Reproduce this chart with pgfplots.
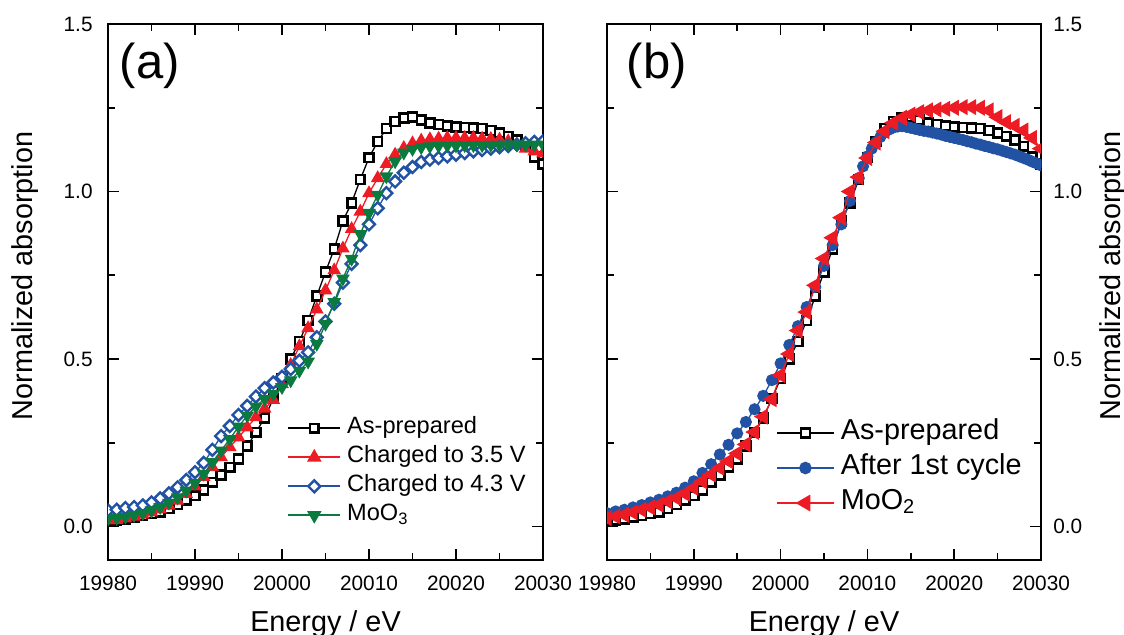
\documentclass[border=0pt]{standalone}
\usepackage{pgfplots}
\usepackage{pgfplotstable}
\pgfplotsset{compat=1.18}
\usepackage{fontspec}
\setmainfont{Liberation Sans}

\definecolor{xred}{HTML}{ED1C24}
\definecolor{xblue}{HTML}{2152A3}
\definecolor{xgreen}{HTML}{0B7A3E}

% panel (a) and the As-prepared curve of panel (b)
\pgfplotstableread{
E ap v35 v43 moo
19980 0.018 0.018 0.048 0.023
19981 0.020 0.020 0.050 0.025
19982 0.023 0.024 0.055 0.029
19983 0.028 0.029 0.058 0.034
19984 0.033 0.035 0.063 0.040
19985 0.038 0.042 0.072 0.048
19986 0.043 0.051 0.084 0.058
19987 0.053 0.062 0.099 0.071
19988 0.066 0.077 0.117 0.087
19989 0.078 0.097 0.139 0.107
19990 0.092 0.120 0.162 0.130
19991 0.109 0.148 0.190 0.157
19992 0.132 0.177 0.229 0.192
19993 0.154 0.207 0.270 0.227
19994 0.177 0.237 0.300 0.261
19995 0.202 0.266 0.333 0.298
19996 0.240 0.296 0.360 0.331
19997 0.281 0.326 0.388 0.358
19998 0.324 0.352 0.413 0.381
19999 0.382 0.378 0.430 0.396
20000 0.442 0.425 0.447 0.416
20001 0.500 0.482 0.470 0.436
20002 0.552 0.538 0.495 0.465
20003 0.615 0.592 0.520 0.492
20004 0.688 0.648 0.565 0.545
20005 0.760 0.705 0.612 0.605
20006 0.828 0.765 0.665 0.670
20007 0.912 0.830 0.728 0.740
20008 0.966 0.888 0.784 0.799
20009 1.036 0.940 0.840 0.873
20010 1.101 0.995 0.902 0.936
20011 1.149 1.040 0.950 0.990
20012 1.188 1.082 0.995 1.045
20013 1.209 1.110 1.030 1.090
20014 1.220 1.130 1.056 1.116
20015 1.222 1.144 1.073 1.127
20016 1.213 1.152 1.088 1.132
20017 1.204 1.156 1.095 1.135
20018 1.200 1.158 1.100 1.136
20019 1.196 1.160 1.105 1.137
20020 1.193 1.160 1.110 1.137
20021 1.191 1.160 1.115 1.138
20022 1.190 1.160 1.120 1.138
20023 1.188 1.158 1.124 1.138
20024 1.182 1.157 1.128 1.139
20025 1.175 1.155 1.132 1.139
20026 1.165 1.150 1.136 1.140
20027 1.154 1.140 1.140 1.140
20028 1.135 1.128 1.144 1.140
20029 1.103 1.120 1.148 1.140
20030 1.082 1.114 1.150 1.140
}\dataA

% panel (b): after 1st cycle
\pgfplotstableread{
E A
19980 0.040
19981 0.045
19982 0.050
19983 0.057
19984 0.064
19985 0.072
19986 0.080
19987 0.090
19988 0.101
19989 0.116
19990 0.135
19991 0.160
19992 0.186
19993 0.215
19994 0.244
19995 0.278
19996 0.312
19997 0.350
19998 0.390
19999 0.437
20000 0.487
20001 0.542
20002 0.598
20003 0.655
20004 0.715
20005 0.778
20006 0.840
20007 0.902
20008 0.972
20009 1.040
20009.5 1.075
20010 1.105
20010.5 1.128
20011 1.147
20011.5 1.163
20012 1.176
20012.5 1.185
20013 1.191
20013.5 1.194
20014 1.195
20014.5 1.193
20015 1.190
20015.5 1.187
20016 1.184
20016.5 1.181
20017 1.179
20017.5 1.176
20018 1.173
20018.5 1.170
20019 1.166
20019.5 1.163
20020 1.160
20020.5 1.157
20021 1.154
20021.5 1.150
20022 1.147
20022.5 1.143
20023 1.140
20023.5 1.136
20024 1.133
20024.5 1.129
20025 1.126
20025.5 1.122
20026 1.118
20026.5 1.114
20027 1.110
20027.5 1.105
20028 1.100
20028.5 1.095
20029 1.089
20029.5 1.084
20030 1.078
}\dataCyc

% panel (b): MoO2
\pgfplotstableread{
E A
19980 0.025
19981 0.030
19982 0.035
19983 0.042
19984 0.050
19985 0.057
19986 0.065
19987 0.075
19988 0.085
19989 0.098
19990 0.115
19991 0.135
19992 0.155
19993 0.175
19994 0.195
19995 0.218
19996 0.245
19997 0.282
19998 0.328
19999 0.380
20000 0.452
20001 0.515
20002 0.585
20003 0.640
20004 0.720
20005 0.800
20006 0.862
20007 0.922
20008 1.000
20009 1.043
20010 1.100
20011 1.146
20012 1.180
20013 1.205
20014 1.220
20015 1.230
20016 1.237
20017 1.242
20018 1.245
20019 1.247
20020 1.250
20021 1.252
20022 1.252
20023 1.250
20024 1.242
20025 1.222
20026 1.207
20027 1.196
20028 1.182
20029 1.160
20030 1.128
}\dataMoO

\pgfplotsset{
  panel/.style={
    width=217.5pt, height=268pt, scale only axis,
    xmin=19980, xmax=20030, ymin=-0.1, ymax=1.5,
    xtick={19980,19990,20000,20010,20020,20030},
    xticklabels={19980,19990,20000,20010,20020,20030},
    ytick={0,0.5,1,1.5}, yticklabels={0.0,0.5,1.0,1.5},
    minor x tick num=1, minor y tick num=1,
    tick align=inside,
    major tick length=5.5pt, minor tick length=3.5pt,
    every tick/.style={black, line width=0.8pt},
    axis line style={line width=1pt},
    scaled x ticks=false, scaled y ticks=false,
    tick label style={font=\fontsize{10.4}{12}\selectfont, inner sep=0pt},
    xticklabel style={anchor=north, yshift=-8pt},
    label style={font=\fontsize{14.4}{17}\selectfont},
    xlabel={Energy / eV},
    xlabel style={at={(axis description cs:0.5,0)}, anchor=base, yshift=-35.5pt},
    ylabel={Normalized absorption},
    clip marker paths=true,
    legend cell align=left,
    every axis plot/.append style={line width=0.65pt},
  },
  legA/.style={
    legend style={at={(0.4115,0.2735)}, anchor=north west, draw=none, fill=none,
      inner sep=0pt, row sep=0pt, column sep=2pt,
      font=\fontsize{11.8}{14}\selectfont,
      nodes={inner sep=1pt, text height=9pt, text depth=3.5pt}},
    legend image code/.code={\draw[mark repeat=2, mark phase=2, line width=0.9pt]
      plot coordinates {(0pt,0pt) (13pt,0pt) (26pt,0pt)};},
  },
  legB/.style={
    legend style={at={(0.3885,0.2703)}, anchor=north west, draw=none, fill=none,
      inner sep=0pt, row sep=0pt, column sep=2pt,
      font=\fontsize{14.4}{17}\selectfont,
      nodes={inner sep=1pt, text height=11pt, text depth=4.5pt}},
    legend image code/.code={\draw[mark repeat=2, mark phase=2, line width=0.9pt]
      plot coordinates {(0pt,0pt) (14.25pt,0pt) (28.5pt,0pt)};},
  },
}

\begin{document}
\begin{tikzpicture}
\useasboundingbox (-54pt,-37pt) rectangle (508pt,280pt);

% (a)
\begin{axis}[panel, legA, at={(0pt,0pt)}, anchor=south west,
    yticklabel style={anchor=east, xshift=-7.5pt},
    ylabel style={at={(axis description cs:-0.191,0.53)}, anchor=center}]
  \addplot[black, mark=square*, mark size=2.2pt,
    mark options={fill=white, line width=1.3pt}] table[x=E, y=ap] {\dataA};
  \addlegendentry{As-prepared}
  \addplot[xred, mark=triangle*, mark size=3.3pt,
    mark options={fill=xred, draw=xred}] table[x=E, y=v35] {\dataA};
  \addlegendentry{Charged to 3.5 V}
  \addplot[xblue, mark=square*, mark size=2.1pt,
    mark options={rotate=45, fill=white, line width=1.2pt}] table[x=E, y=v43] {\dataA};
  \addlegendentry{Charged to 4.3 V}
  \addplot[xgreen, mark=triangle*, mark size=3.3pt,
    mark options={rotate=180, fill=xgreen, draw=xgreen}] table[x=E, y=moo] {\dataA};
  \addlegendentry{MoO\textsubscript{3}}
  \node[anchor=west, inner sep=0pt, font=\fontsize{24.5}{29}\selectfont]
    at (rel axis cs:0.026,0.922) {(a)};
\end{axis}

% (b)
\begin{axis}[panel, legB, at={(249.5pt,0pt)}, anchor=south west,
    width=217pt,
    yticklabel pos=right,
    yticklabel style={anchor=west, xshift=6pt},
    ylabel style={at={(axis description cs:1.165,0.53)}, anchor=center}]
  \addplot[black, mark=square*, mark size=2.2pt,
    mark options={fill=white, line width=1.3pt}] table[x=E, y=ap] {\dataA};
  \addlegendentry{As-prepared}
  \addplot[xblue, mark=*, mark size=2.7pt,
    mark options={fill=xblue, draw=xblue}] table[x=E, y=A] {\dataCyc};
  \addlegendentry{After 1st cycle}
  \addplot[xred, mark=triangle*, mark size=4pt,
    mark options={rotate=90, fill=xred, draw=xred}] table[x=E, y=A] {\dataMoO};
  \addlegendentry{MoO\textsubscript{2}}
  \node[anchor=west, inner sep=0pt, font=\fontsize{24.5}{29}\selectfont]
    at (rel axis cs:0.045,0.922) {(b)};
\end{axis}
\end{tikzpicture}
\end{document}
